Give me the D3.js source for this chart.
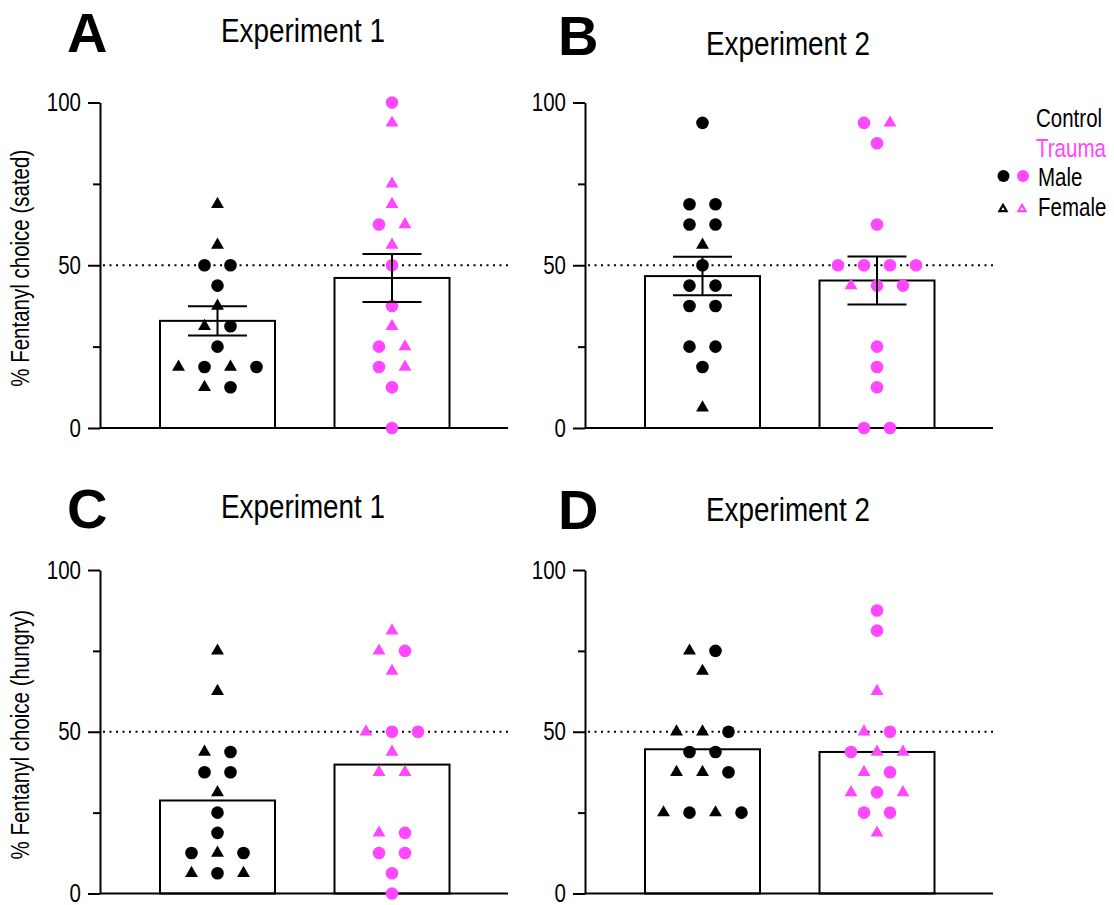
<!DOCTYPE html>
<html><head><meta charset="utf-8">
<script src="https://cdn.jsdelivr.net/npm/d3@7"></script>
<style>
body{margin:0;background:#fff}
svg{display:block}
text{font-family:"Liberation Sans",Arial,sans-serif;fill:#000}
.letter{font-weight:bold;font-size:56px}
.title{font-size:34px}
.tick text{font-size:25px;font-family:"Liberation Sans",Arial,sans-serif}
.ylab{font-size:25px}
.legend text{font-size:25px}
</style></head><body>
<svg id="chart" width="1114" height="905"></svg>
<script>
/* fentanyl choice, 4 panels: bar = group mean, dots = animals (circle male, triangle female) */

const GROUPS = ["Control", "Trauma"];
const COLORS = { Control: "#000000", Trauma: "#ff47ff" };
const Y_TICKS = [0, 50, 100];
const Y_MINOR = [25, 75];
const CHANCE = 50;

// [value, sex] — listed row by row, left to right
const A_CONTROL = [[68.75,"F"],[56.25,"F"],[50,"M"],[50,"M"],[43.75,"M"],[37.5,"F"],[31.25,"F"],[31.25,"M"],[25,"M"],
  [18.75,"F"],[18.75,"M"],[18.75,"F"],[18.75,"M"],[12.5,"F"],[12.5,"M"]];
const A_TRAUMA = [[100,"M"],[93.75,"F"],[75,"F"],[68.75,"F"],[62.5,"M"],[62.5,"F"],[56.25,"F"],[50,"M"],[37.5,"M"],
  [31.25,"F"],[25,"M"],[25,"F"],[18.75,"M"],[18.75,"F"],[12.5,"M"],[0,"M"]];
const B_CONTROL = [[93.75,"M"],[68.75,"M"],[68.75,"M"],[62.5,"M"],[62.5,"M"],[56.25,"F"],[50,"M"],[43.75,"M"],[43.75,"M"],
  [37.5,"M"],[37.5,"M"],[25,"M"],[25,"M"],[18.75,"M"],[6.25,"F"]];
const B_TRAUMA = [[93.75,"M"],[93.75,"F"],[87.5,"M"],[62.5,"M"],[50,"M"],[50,"M"],[50,"M"],[50,"M"],[43.75,"F"],[43.75,"M"],
  [43.75,"M"],[25,"M"],[18.75,"M"],[12.5,"M"],[0,"M"],[0,"M"]];
const C_CONTROL = [[75,"F"],[62.5,"F"],[43.75,"F"],[43.75,"M"],[37.5,"M"],[37.5,"M"],[31.25,"F"],[25,"M"],[18.75,"M"],
  [12.5,"M"],[12.5,"F"],[12.5,"M"],[6.25,"F"],[6.25,"M"],[6.25,"F"]];
const C_TRAUMA = [[81.25,"F"],[75,"F"],[75,"M"],[68.75,"F"],[50,"F"],[50,"M"],[50,"M"],[43.75,"F"],[37.5,"F"],[37.5,"F"],
  [18.75,"F"],[18.75,"M"],[12.5,"M"],[12.5,"M"],[6.25,"M"],[0,"M"]];
const D_CONTROL = [[75,"F"],[75,"M"],[68.75,"F"],[50,"F"],[50,"F"],[50,"M"],[43.75,"M"],[43.75,"M"],[37.5,"F"],[37.5,"F"],
  [37.5,"M"],[25,"F"],[25,"M"],[25,"F"],[25,"M"]];
const D_TRAUMA = [[87.5,"M"],[81.25,"M"],[62.5,"F"],[50,"F"],[50,"M"],[43.75,"M"],[43.75,"F"],[43.75,"F"],[37.5,"F"],
  [37.5,"M"],[31.25,"F"],[31.25,"M"],[31.25,"F"],[25,"M"],[25,"M"],[18.75,"F"]];

const PANELS = [
  { id:"A", title:"Experiment 1", ylabel:"% Fentanyl choice (sated)",  data:{Control:A_CONTROL, Trauma:A_TRAUMA}, sem:true },
  { id:"B", title:"Experiment 2", ylabel:null,                          data:{Control:B_CONTROL, Trauma:B_TRAUMA}, sem:true },
  { id:"C", title:"Experiment 1", ylabel:"% Fentanyl choice (hungry)", data:{Control:C_CONTROL, Trauma:C_TRAUMA}, sem:false },
  { id:"D", title:"Experiment 2", ylabel:null,                          data:{Control:D_CONTROL, Trauma:D_TRAUMA}, sem:false }
];

// page layout (px)
const LAYOUT = {
  A:{ x0:100, top:102.5, bot:428,   letter:[67,52],   title:[303,42] },
  B:{ x0:585, top:102.5, bot:428,   letter:[558,55],  title:[788,55] },
  C:{ x0:100, top:570,   bot:893.5, letter:[67,528],  title:[303,518] },
  D:{ x0:585, top:570,   bot:893.5, letter:[558,529], title:[788,521] }
};
const AXW = 408, BARW = 115, CAP = 29.5, STEP = 26, R = 6.3;
const NARROW = 0.82;   // the figure uses a condensed face; squeeze Liberation Sans

const svg = d3.select("#chart");
const tri = d3.symbol().type(d3.symbolTriangle).size(72);

function narrow(sel, x, y, rot) {
  return sel.attr("transform", `translate(${x},${y})${rot ? ` rotate(${rot})` : ""} scale(${NARROW},1)`);
}

PANELS.forEach(p => {
  const L = LAYOUT[p.id];
  const g = svg.append("g");
  const x = d3.scalePoint().domain(GROUPS).range([L.x0 + 117.5, L.x0 + 292]);
  const y = d3.scaleLinear().domain([0, 100]).range([L.bot, L.top]);

  g.append("text").attr("class","letter").attr("x",L.letter[0]).attr("y",L.letter[1]).text(p.id);
  narrow(g.append("text").attr("class","title").attr("text-anchor","middle"), L.title[0], L.title[1]).text(p.title);
  if (p.ylabel) {
    narrow(g.append("text").attr("class","ylab").attr("text-anchor","middle"), 29, (L.top+L.bot)/2 + 3, -90)
      .text(p.ylabel);
  }

  // bars
  const stats = GROUPS.map(k => {
    const v = p.data[k].map(d => d[0]);
    return { k, mean:d3.mean(v), sem:d3.deviation(v)/Math.sqrt(v.length) };
  });
  g.selectAll("rect.bar").data(stats).enter().append("rect")
    .attr("x", d => x(d.k) - BARW/2).attr("width", BARW)
    .attr("y", d => y(d.mean)).attr("height", d => y(0) - y(d.mean))
    .attr("fill","#fff").attr("stroke","#000").attr("stroke-width",2);

  // chance line
  g.append("line").attr("x1",L.x0+3).attr("x2",L.x0+AXW)
    .attr("y1",y(CHANCE)).attr("y2",y(CHANCE))
    .attr("stroke","#000").attr("stroke-width",2.2).attr("stroke-dasharray","2,4.5");

  // x baseline
  g.append("line").attr("x1",L.x0).attr("x2",L.x0+AXW).attr("y1",y(0)).attr("y2",y(0))
    .attr("stroke","#000").attr("stroke-width",2);

  // y axis
  const ya = g.append("g").attr("transform",`translate(${L.x0},0)`)
    .call(d3.axisLeft(y).tickValues(Y_TICKS).tickSize(12).tickSizeOuter(0).tickPadding(7));
  g.append("g").attr("transform",`translate(${L.x0},0)`)
    .call(d3.axisLeft(y).tickValues(Y_MINOR).tickSize(7).tickSizeOuter(0).tickFormat(""))
    .select(".domain").remove();
  g.selectAll(".tick line, .domain").attr("stroke","#000").attr("stroke-width",2);
  ya.selectAll(".tick text").attr("fill","#000").attr("x", -19 / NARROW)
    .attr("transform", `scale(${NARROW},1)`);

  // points: each value row spread evenly around the group centre
  GROUPS.forEach(k => {
    const rows = d3.group(p.data[k], d => d[0]);
    const pts = [];
    rows.forEach(list => list.forEach((d, i) =>
      pts.push({ v:d[0], sex:d[1], dx:(i - (list.length-1)/2) * STEP })));
    const gp = g.append("g").attr("fill", COLORS[k]);
    gp.selectAll("circle").data(pts.filter(d => d.sex === "M")).enter().append("circle")
      .attr("cx", d => x(k) + d.dx).attr("cy", d => y(d.v)).attr("r", R);
    gp.selectAll("path").data(pts.filter(d => d.sex === "F")).enter().append("path")
      .attr("d", tri).attr("transform", d => `translate(${x(k) + d.dx},${y(d.v)})`);
  });

  // mean ± SEM
  if (p.sem) {
    const eb = g.selectAll("g.eb").data(stats).enter().append("g")
      .attr("stroke","#000").attr("stroke-width",2);
    eb.append("line").attr("x1",d=>x(d.k)).attr("x2",d=>x(d.k))
      .attr("y1",d=>y(d.mean+d.sem)).attr("y2",d=>y(d.mean-d.sem));
    [1,-1].forEach(s => eb.append("line")
      .attr("x1",d=>x(d.k)-CAP).attr("x2",d=>x(d.k)+CAP)
      .attr("y1",d=>y(d.mean+s*d.sem)).attr("y2",d=>y(d.mean+s*d.sem)));
  }
});

// legend
const lg = svg.append("g").attr("class","legend");
narrow(lg.append("text"), 1036, 127).text("Control");
narrow(lg.append("text"), 1036, 157).style("fill", COLORS.Trauma).text("Trauma");
narrow(lg.append("text"), 1038, 185.5).text("Male");
narrow(lg.append("text"), 1038, 215.5).text("Female");
GROUPS.forEach((k, i) => {
  lg.append("circle").attr("cx",1003.5 + i*19.5).attr("cy",176).attr("r",6).attr("fill",COLORS[k]);
  lg.append("path").attr("d", d3.symbol().type(d3.symbolTriangle).size(22))
    .attr("transform",`translate(${1003 + i*19},${209})`)
    .attr("fill","#fff").attr("stroke",COLORS[k]).attr("stroke-width",2.2);
});
</script></body></html>
